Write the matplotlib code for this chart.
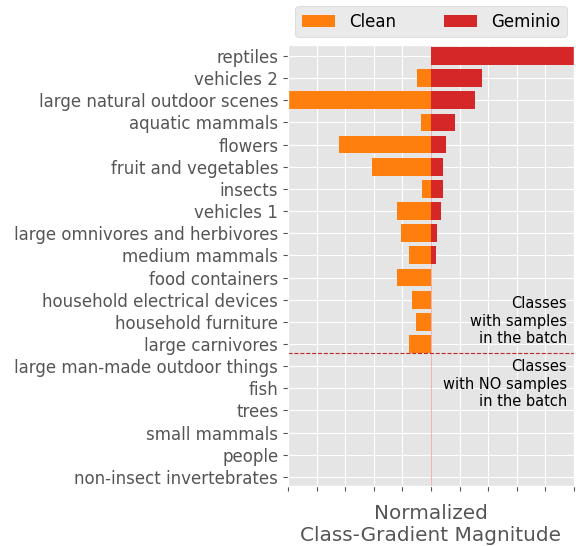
import numpy as np
import matplotlib
matplotlib.use("Agg")
import matplotlib.pyplot as plt

plt.style.use("ggplot")

classes = ["reptiles", "vehicles 2", "large natural outdoor scenes", "aquatic mammals",
           "flowers", "fruit and vegetables", "insects", "vehicles 1",
           "large omnivores and herbivores", "medium mammals", "food containers",
           "household electrical devices", "household furniture", "large carnivores",
           "large man-made outdoor things", "fish", "trees", "small mammals", "people",
           "non-insect invertebrates"]
clean = [0.0, -0.10, -1.0, -0.07, -0.64, -0.41, -0.063, -0.235, -0.21, -0.155, -0.24,
         -0.13, -0.105, -0.155, 0, 0, 0, 0, 0, 0]
geminio = [1.0, 0.36, 0.31, 0.17, 0.105, 0.085, 0.083, 0.068, 0.045, 0.035, 0, 0,
           0, 0, 0, 0, 0, 0, 0, 0]

fig = plt.figure(figsize=(5.76, 5.46), dpi=100)
ax = fig.add_axes([0.5, 0.110, 0.4965, 0.8077])

y = np.arange(len(classes))
ax.barh(y, clean, height=0.8, color="tab:orange", label="Clean")
ax.barh(y, geminio, height=0.8, color="tab:red", label="Geminio")

ax.axvline(0, color="tab:red", lw=0.7, alpha=0.35)
ax.axhline(13.4, color="#c0282a", lw=0.8, ls="--")

ax.text(0.95, 13.1, "Classes\nwith samples\nin the batch", ha="right", va="bottom",
        fontsize=10.5, color="black")
ax.text(0.95, 13.7, "Classes\nwith NO samples\nin the batch", ha="right", va="top",
        fontsize=10.5, color="black")

ax.set_yticks(y)
ax.set_yticklabels(classes, fontsize=12, color="#555555")
ax.set_xticks(np.linspace(-1, 1, 11))
ax.set_xticklabels([])
ax.set_xlim(-1, 1)
ax.set_ylim(19.41, -0.5)
ax.set_xlabel("Normalized\nClass-Gradient Magnitude", fontsize=14.4, color="#555555",
              labelpad=6)

ax.legend(loc="lower center", bbox_to_anchor=(0.5, 1.01), ncol=2, fontsize=12,
          columnspacing=2.9, borderaxespad=0.2)

fig.savefig("out.png", dpi=100)
